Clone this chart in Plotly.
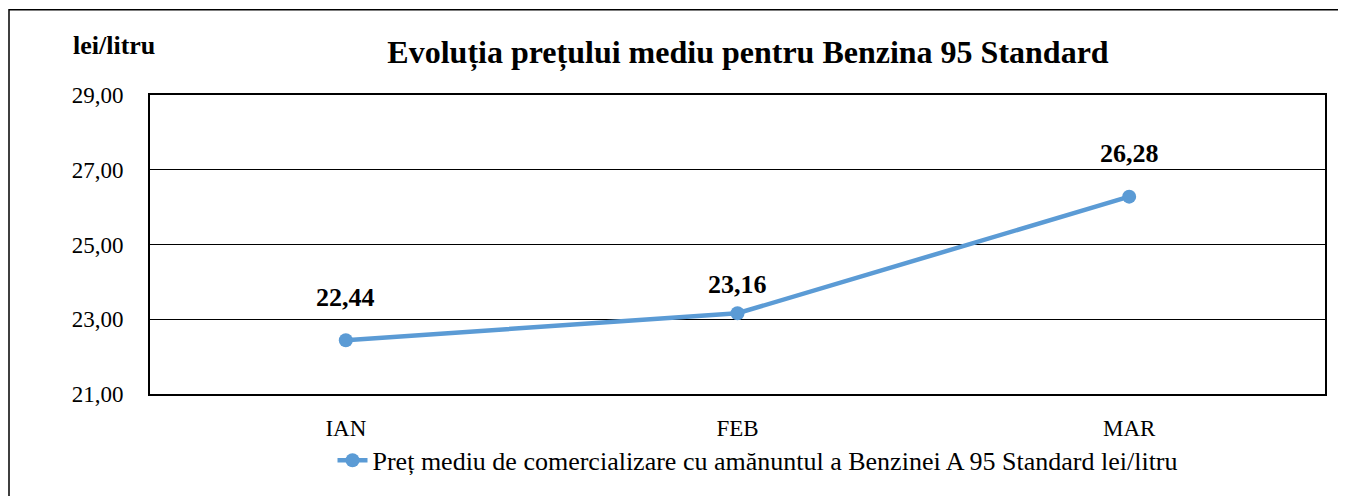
import plotly.graph_objects as go

months = ['IAN', 'FEB', 'MAR']
prices = [22.44, 23.16, 26.28]
price_labels = ['22,44', '23,16', '26,28']
y_ticks = [21, 23, 25, 27, 29]
y_tick_labels = ['21,00', '23,00', '25,00', '27,00', '29,00']
series_name = 'Preț mediu de comercializare cu amănuntul a Benzinei A 95 Standard lei/litru'

SERIF = 'Liberation Serif'
BLUE = '#5B9BD5'

# the page body adds an 8px margin, so the figure is laid out in a 1338x488 box
W, H = 1338, 488
L, R, T, B = 142, 21, 87, 99
pw, ph = W - L - R, H - T - B

fig = go.Figure()

fig.add_trace(go.Scatter(
    x=months,
    y=prices,
    mode='lines+markers',
    name=series_name,
    line=dict(color=BLUE, width=4.5),
    marker=dict(size=14, color=BLUE),
    cliponaxis=False,
))

# data labels placed above each point
label_shift = [43, 29, 43]
annotations = [
    dict(x=m, y=p, xref='x', yref='y', text='<b>' + t + '</b>',
         showarrow=False, yshift=s,
         font=dict(family=SERIF, size=26, color='black'))
    for m, p, t, s in zip(months, prices, price_labels, label_shift)
]
annotations.append(dict(
    text='<b>lei/litru</b>',
    xref='paper', yref='paper',
    x=(106 - L) / pw, y=1 + (T - 37) / ph, xanchor='center', yanchor='middle',
    showarrow=False,
    font=dict(family=SERIF, size=26, color='black'),
))

fig.update_layout(
    width=W,
    height=H,
    margin=dict(l=L, r=R, t=T, b=B),
    paper_bgcolor='white',
    plot_bgcolor='white',
    font=dict(family=SERIF, color='black'),
    title=dict(
        text='<b>Evoluția prețului mediu pentru Benzina 95 Standard</b>',
        font=dict(family=SERIF, size=32, color='black'),
        x=(740 - L) / pw, xanchor='center', xref='paper',
        y=1 - 44 / H, yanchor='middle', yref='container',
    ),
    showlegend=True,
    legend=dict(
        orientation='h',
        x=(750 - L) / pw, xanchor='center',
        y=-(456 - T - ph) / ph, yanchor='middle',
        font=dict(family=SERIF, size=26, color='black'),
        bgcolor='rgba(0,0,0,0)',
    ),
    annotations=annotations,
    shapes=[dict(
        type='rect', xref='paper', yref='paper',
        x0=(-L + 1) / pw, x1=(W - L + 20) / pw,
        y0=-(H - T - ph + 20) / ph, y1=1 + (T - 1) / ph,
        line=dict(color='black', width=1.5),
    )],
)

fig.update_xaxes(
    type='category',
    range=[-0.5, 2.5],
    showgrid=False,
    showline=True, linecolor='black', linewidth=2, mirror=True,
    ticks='',
    tickfont=dict(family=SERIF, size=23, color='black'),
    ticklabelstandoff=12,
)

fig.update_yaxes(
    range=[21, 29],
    tickvals=y_ticks,
    ticktext=y_tick_labels,
    showgrid=True, gridcolor='black', gridwidth=1,
    showline=True, linecolor='black', linewidth=2, mirror=True,
    ticks='',
    tickfont=dict(family=SERIF, size=23, color='black'),
    ticklabelstandoff=20,
    zeroline=False,
)

fig.write_html('out.html')
